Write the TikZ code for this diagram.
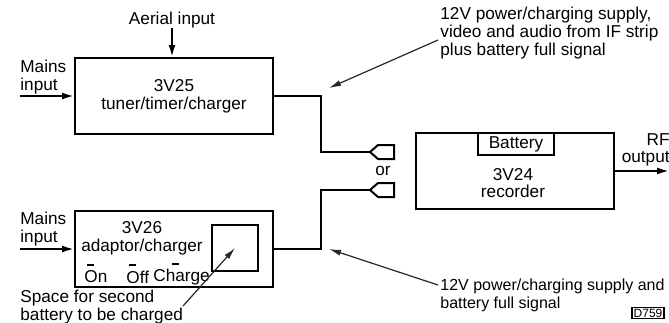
\documentclass[tikz,border=0pt]{standalone}
\usepackage{fontspec}
\setmainfont{Liberation Sans}
\usetikzlibrary{arrows.meta}

\begin{document}
\begin{tikzpicture}[x=0.5pt,y=-0.5pt,
	font=\fontsize{8.6}{8.8}\selectfont,
	unit/.style={draw,line width=1pt,inner sep=0,minimum width=99pt,minimum height=38pt},
	txt/.style={inner sep=0,align=left},
	wire/.style={line width=1pt},
	feed/.style={line width=1pt,-{Latex[length=6pt,width=3.5pt]}},
	lead/.style={line width=0.6pt,black!85,-{Latex[length=6pt,width=3pt]}}]
	\useasboundingbox (0,0) rectangle (669,322);
	% units
	\node[unit] (tuner) at (174,96) {};
	\node[unit] (adaptor) at (174,249) {};
	\node[unit] (recorder) at (515,171) {};
	\node[draw,line width=1pt,inner sep=0,minimum width=23pt,minimum height=23pt] (slot) at (235,248) {};
	\node[draw,line width=1pt,inner sep=0,minimum width=38pt,minimum height=11pt] (battery) at (516,144) {Battery};
	\node[txt,align=center] (tunertxt) at (174,96) {3V25\\tuner/timer/charger};
	\node[txt,align=center] (adaptortxt) at (142,238) {3V26\\adaptor/charger};
	\node[txt,align=center] (recordertxt) at (513,183) {3V24\\recorder};
	\node[txt,anchor=west] (on) at (84,277) {On};
	\node[txt,anchor=west] (off) at (126,277) {Off};
	\node[txt,anchor=west] (charge) at (153,277) {Charge};
	\draw[line width=1.2pt] (87,265) -- (94,265) (129,265) -- (136,265) (172,264) -- (179,264);
	% inputs and outputs
	\node[txt] (aerial) at (172,20) {Aerial input};
	\node[txt,anchor=west] (mainsA) at (20,77) {Mains\\input};
	\node[txt,anchor=west] (mainsB) at (20,229) {Mains\\input};
	\node[txt,align=right,anchor=north east] (rf) at (670,133) {RF\\output};
	\coordinate (inA) at (20,96);
	\coordinate (inB) at (20,249);
	\coordinate (rfout) at (669,171);
	\draw[feed] (aerial) -- (aerial |- tuner.north);
	\draw[feed] (inA) -- (tuner.west);
	\draw[feed] (inB) -- (adaptor.west);
	\draw[feed] (recorder.east) -- (rfout);
	% leads to the plugs
	\coordinate (plugA) at (370,152);
	\coordinate (plugB) at (370,190);
	\coordinate (jA) at (321,152);
	\coordinate (jB) at (321,190);
	\draw[wire] (tuner.east) -| (jA) -- (plugA);
	\draw[wire] (adaptor.east) -| (jB) -- (plugB);
	\foreach \p in {plugA,plugB}
		\draw[wire] (\p) -- ++(8,-7) -- ++(16,0) -- ++(0,14) -- ++(-16,0) -- cycle;
	\node[txt] (or) at (383,171) {or};
	% notes
	\node[txt,anchor=north west] (noteA) at (440,7) {12V power/charging supply,\\video and audio from IF strip\\plus battery full signal};
	\node[txt,anchor=north west,font=\fontsize{8}{8.8}\selectfont] (noteB) at (440,279) {12V power/charging supply and\\battery full signal};
	\node[txt,anchor=north west,font=\fontsize{8.6}{7.6}\selectfont] (space) at (20,290) {Space for second\\battery to be charged};
	\coordinate (fromA) at (438,40);
	\coordinate (toA) at (329,88);
	\coordinate (fromB) at (438,285);
	\coordinate (toB) at (329,249);
	\coordinate (fromS) at (183,306);
	\draw[lead] (fromA) -- (toA);
	\draw[lead] (fromB) -- (toB);
	\draw[lead] (fromS) -- (slot.center);
	\node[draw,line width=0.6pt,inner sep=0.8pt,font=\fontsize{6}{6}\selectfont] (ref) at (648,313) {D759};
\end{tikzpicture}
\end{document}
